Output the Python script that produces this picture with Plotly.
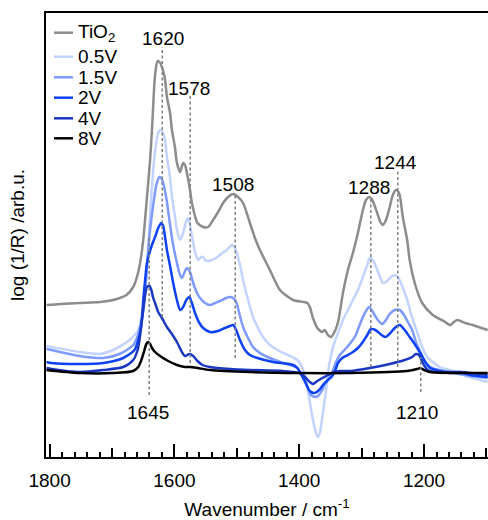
import plotly.graph_objects as go

# ---------------- data ----------------
series_names = ["TiO<sub>2</sub>", "0.5V", "1.5V", "2V", "4V", "8V"]
series_colors = ["#8c8c8c", "#c2d3ff", "#7d9bff", "#0d42f7", "#1a38c4", "#000000"]

wn_tio2 = [1805, 1783, 1752, 1719, 1698, 1677, 1666, 1660, 1655, 1650, 1644, 1639, 1636, 1631, 1627,
           1624, 1620, 1615, 1612, 1607, 1604, 1599, 1596, 1591, 1586, 1583, 1580, 1575, 1572, 1563,
           1554, 1546, 1538, 1530, 1522, 1514, 1506, 1498, 1490, 1479, 1471, 1463, 1447, 1431, 1410,
           1387, 1383, 1378, 1371, 1363, 1359, 1354, 1349, 1342, 1337, 1330, 1322, 1314, 1306, 1298,
           1293, 1288, 1283, 1275, 1270, 1266, 1261, 1255, 1250, 1245, 1240, 1234, 1227, 1223, 1214,
           1203, 1186, 1166, 1159, 1150, 1146, 1134, 1122, 1098]
y_tio2 = [0.67, 0.68, 0.69, 0.70, 0.72, 0.77, 0.85, 0.95, 1.09, 1.32, 1.75, 2.12, 2.42, 2.97, 3.11,
          3.10, 3.05, 2.92, 2.75, 2.59, 2.42, 2.24, 2.09, 2.00, 2.09, 2.07, 1.99, 1.82, 1.69, 1.49,
          1.45, 1.45, 1.52, 1.60, 1.69, 1.75, 1.78, 1.75, 1.69, 1.49, 1.34, 1.22, 1.02, 0.82, 0.72,
          0.69, 0.65, 0.54, 0.44, 0.40, 0.42, 0.37, 0.35, 0.42, 0.52, 0.79, 1.02, 1.19, 1.39, 1.62,
          1.72, 1.75, 1.72, 1.59, 1.50, 1.47, 1.52, 1.65, 1.77, 1.82, 1.79, 1.55, 1.32, 1.12, 0.87,
          0.69, 0.57, 0.50, 0.47, 0.51, 0.52, 0.49, 0.47, 0.42]

wn_05v = [1805, 1797, 1752, 1720, 1698, 1672, 1658, 1650, 1645, 1642, 1639, 1634, 1629, 1626, 1623,
          1620, 1616, 1612, 1607, 1604, 1599, 1596, 1591, 1586, 1581, 1578, 1575, 1570, 1565, 1562,
          1557, 1554, 1551, 1546, 1540, 1531, 1523, 1516, 1508, 1503, 1496, 1490, 1482, 1474, 1466,
          1458, 1447, 1435, 1415, 1403, 1399, 1392, 1387, 1383, 1378, 1373, 1370, 1367, 1362, 1357,
          1354, 1349, 1344, 1338, 1330, 1322, 1314, 1306, 1298, 1291, 1287, 1282, 1275, 1270, 1266,
          1259, 1253, 1247, 1242, 1235, 1227, 1219, 1211, 1203, 1195, 1186, 1175, 1159, 1147, 1134,
          1122, 1098]
y_05v = [0.26, 0.25, 0.20, 0.18, 0.22, 0.32, 0.42, 0.65, 0.92, 1.22, 1.57, 2.02, 2.30, 2.39, 2.42,
         2.41, 2.35, 2.15, 1.94, 1.75, 1.55, 1.42, 1.32, 1.39, 1.51, 1.54, 1.47, 1.29, 1.16, 1.12,
         1.15, 1.15, 1.12, 1.11, 1.12, 1.15, 1.19, 1.22, 1.27, 1.24, 1.10, 0.92, 0.72, 0.55, 0.44,
         0.35, 0.27, 0.22, 0.16, 0.12, 0.09, -0.01, -0.15, -0.30, -0.48, -0.61, -0.65, -0.61, -0.41, -0.18,
         -0.01, 0.17, 0.29, 0.39, 0.52, 0.62, 0.72, 0.82, 0.95, 1.07, 1.14, 1.12, 1.02, 0.94, 0.89,
         0.91, 0.95, 0.97, 0.95, 0.86, 0.72, 0.54, 0.40, 0.25, 0.15, 0.10, 0.05, 0.02, 0.00, -0.04,
         -0.06, -0.10]

wn_15v = [1805, 1797, 1752, 1714, 1688, 1666, 1656, 1648, 1644, 1639, 1634, 1629, 1624, 1621, 1616,
          1612, 1607, 1602, 1596, 1591, 1588, 1583, 1580, 1575, 1570, 1563, 1559, 1551, 1543, 1535,
          1527, 1517, 1511, 1506, 1501, 1495, 1490, 1482, 1474, 1463, 1451, 1426, 1410, 1403, 1399,
          1394, 1387, 1381, 1374, 1370, 1363, 1359, 1352, 1347, 1341, 1335, 1326, 1318, 1310, 1302,
          1294, 1288, 1282, 1274, 1267, 1261, 1255, 1247, 1239, 1232, 1226, 1219, 1213, 1206, 1198,
          1190, 1175, 1159, 1134, 1098]
y_15v = [0.23, 0.22, 0.16, 0.14, 0.18, 0.27, 0.42, 0.72, 1.07, 1.42, 1.67, 1.87, 1.95, 1.94, 1.84,
         1.70, 1.47, 1.27, 1.09, 0.97, 0.94, 1.01, 1.04, 1.00, 0.89, 0.78, 0.74, 0.69, 0.67, 0.69,
         0.71, 0.74, 0.75, 0.74, 0.70, 0.56, 0.45, 0.34, 0.25, 0.19, 0.15, 0.09, 0.06, 0.04, 0.00,
         -0.06, -0.15, -0.23, -0.25, -0.24, -0.18, -0.12, -0.06, 0.00, 0.10, 0.17, 0.23, 0.29, 0.36, 0.49,
         0.60, 0.65, 0.60, 0.52, 0.48, 0.52, 0.58, 0.62, 0.62, 0.57, 0.50, 0.42, 0.30, 0.20, 0.10,
         0.05, 0.02, 0.00, -0.03, -0.06]

wn_2v = [1805, 1797, 1752, 1714, 1682, 1664, 1658, 1653, 1650, 1647, 1644, 1640, 1636, 1631, 1626,
         1621, 1618, 1615, 1612, 1607, 1602, 1596, 1591, 1586, 1581, 1576, 1572, 1567, 1560, 1554,
         1543, 1530, 1519, 1511, 1506, 1501, 1495, 1487, 1479, 1467, 1442, 1410, 1403, 1399, 1391,
         1383, 1375, 1368, 1362, 1354, 1347, 1342, 1338, 1331, 1322, 1314, 1306, 1298, 1291, 1285,
         1278, 1270, 1262, 1254, 1247, 1239, 1231, 1223, 1214, 1206, 1198, 1190, 1175, 1159, 1142,
         1126, 1098]
y_2v = [0.10, 0.09, 0.08, 0.09, 0.14, 0.22, 0.32, 0.47, 0.72, 0.92, 1.09, 1.19, 1.27, 1.35, 1.44,
        1.49, 1.46, 1.35, 1.22, 1.06, 0.89, 0.72, 0.62, 0.65, 0.72, 0.75, 0.69, 0.59, 0.49, 0.44,
        0.40, 0.41, 0.44, 0.46, 0.47, 0.42, 0.32, 0.22, 0.17, 0.14, 0.10, 0.07, 0.04, 0.00, -0.09,
        -0.19, -0.21, -0.18, -0.13, -0.08, -0.04, 0.02, 0.09, 0.14, 0.17, 0.20, 0.24, 0.30, 0.37, 0.43,
        0.42, 0.38, 0.35, 0.39, 0.44, 0.47, 0.42, 0.35, 0.27, 0.19, 0.10, 0.04, 0.01, -0.01, 0.00,
        -0.03, -0.05]

wn_4v = [1805, 1797, 1752, 1714, 1682, 1666, 1659, 1656, 1653, 1650, 1647, 1644, 1640, 1637, 1634,
         1631, 1626, 1620, 1612, 1603, 1596, 1588, 1583, 1576, 1570, 1563, 1555, 1543, 1511, 1479,
         1426, 1399, 1391, 1383, 1378, 1371, 1363, 1354, 1344, 1335, 1318, 1287, 1255, 1231, 1219,
         1213, 1208, 1202, 1194, 1175, 1142, 1098]
y_4v = [0.04, 0.03, 0.00, 0.02, 0.05, 0.12, 0.22, 0.32, 0.47, 0.62, 0.77, 0.85, 0.86, 0.82, 0.74,
        0.69, 0.60, 0.54, 0.45, 0.37, 0.30, 0.20, 0.16, 0.18, 0.16, 0.11, 0.07, 0.05, 0.03, 0.02,
        0.01, -0.01, -0.05, -0.10, -0.12, -0.09, -0.06, -0.03, 0.00, 0.01, 0.01, 0.04, 0.08, 0.12, 0.15,
        0.18, 0.17, 0.09, 0.02, 0.00, 0.00, -0.03]

wn_8v = [1805, 1752, 1698, 1666, 1658, 1653, 1648, 1645, 1642, 1639, 1636, 1631, 1623, 1610, 1596,
         1583, 1575, 1563, 1543, 1479, 1399, 1318, 1227, 1211, 1206, 1200, 1191, 1098]
y_8v = [0.02, -0.01, -0.01, 0.01, 0.05, 0.12, 0.22, 0.28, 0.30, 0.28, 0.24, 0.20, 0.16, 0.11, 0.07,
        0.05, 0.05, 0.04, 0.02, 0.00, -0.01, -0.01, 0.01, 0.03, 0.04, 0.02, 0.00, -0.01]

# band markers (dashed guide lines) and their labels
band_labels = ["1645", "1620", "1578", "1508", "1288", "1244", "1210"]
band_wn = [1640.4, 1619.5, 1574.7, 1502.6, 1285.3, 1242.1, 1205.3]
band_top = [1.35, 3.25, 2.77, 1.79, 1.75, 2.02, 0.15]
band_bottom = [-0.23, 0.55, 0.09, 0.14, 0.05, 0.05, -0.20]
label_wn = [1643, 1618, 1577, 1506, 1288, 1245, 1211]
label_y = [-0.40, 3.34, 2.84, 1.88, 1.85, 2.10, -0.40]

x_major = [1800, 1600, 1400, 1200]
x_mid = [1700, 1500, 1300, 1100]

FONT = "Arial, Liberation Sans, sans-serif"
FS = 19

series_x = [wn_tio2, wn_05v, wn_15v, wn_2v, wn_4v, wn_8v]
series_y = [y_tio2, y_05v, y_15v, y_2v, y_4v, y_8v]

fig = go.Figure()
for name, col, xs, ys in zip(series_names, series_colors, series_x, series_y):
    fig.add_trace(go.Scatter(x=xs, y=ys, mode="lines", name=name, showlegend=False,
                             line=dict(color=col, width=2.5, shape="spline", smoothing=0.7)))

# invisible trace to activate the overlay axis carrying the 100-step ticks
fig.add_trace(go.Scatter(x=[x_mid[0]], y=[0], xaxis="x2", mode="markers",
                         marker=dict(opacity=0), showlegend=False, hoverinfo="skip"))

shapes = []
annotations = []
for lab, xw, y0, y1, lx, ly in zip(band_labels, band_wn, band_bottom, band_top, label_wn, label_y):
    shapes.append(dict(type="line", xref="x", yref="y", x0=xw, x1=xw, y0=y0, y1=y1,
                       line=dict(color="#808080", width=1.5, dash="3px,2.5px")))
    annotations.append(dict(x=lx, y=ly, xref="x", yref="y", text=lab, showarrow=False,
                            font=dict(family=FONT, size=FS, color="#000"),
                            xanchor="center", yanchor="middle"))

# manual legend (line sample + text), in paper coordinates
leg_y_px = [32.7, 56.7, 77.3, 97.7, 118.3, 138.3]
plot_top, plot_h, plot_l, plot_w = 13, 444, 46, 442
for name, col, py in zip(series_names, series_colors, leg_y_px):
    yp = (plot_top + plot_h - py) / plot_h
    shapes.append(dict(type="line", xref="paper", yref="paper",
                       x0=(54 - plot_l) / plot_w, x1=(73 - plot_l) / plot_w, y0=yp, y1=yp,
                       line=dict(color=col, width=2.5)))
    annotations.append(dict(x=(76 - plot_l) / plot_w, y=yp, xref="paper", yref="paper",
                            text=name, showarrow=False, xanchor="left", yanchor="middle",
                            font=dict(family=FONT, size=FS, color="#000")))

fig.update_layout(
    width=488, height=520,
    margin=dict(l=46, r=0, t=13, b=63, autoexpand=False),
    paper_bgcolor="white", plot_bgcolor="white",
    font=dict(family=FONT, size=FS, color="#000"),
    shapes=shapes, annotations=annotations,
    xaxis=dict(range=[1805.8, 1097.5], showgrid=False, zeroline=False,
               showline=True, linecolor="#000", linewidth=2, mirror=True,
               ticks="inside", ticklen=13, tickwidth=1.5, tickcolor="#000",
               tickvals=x_major, ticktext=[str(v) for v in x_major],
               tickfont=dict(family=FONT, size=FS), ticklabelstandoff=5,
               minor=dict(ticks="inside", ticklen=5, tickwidth=1.5, tickcolor="#000",
                          dtick=20, tick0=1800, showgrid=False),
               title=dict(text="Wavenumber / cm<sup>-1</sup>", standoff=16,
                          font=dict(family=FONT, size=FS)),
               automargin=False),
    xaxis2=dict(overlaying="x", matches="x", anchor="y", side="bottom",
                showgrid=False, zeroline=False, showline=False,
                ticks="inside", ticklen=9, tickwidth=1.5, tickcolor="#000",
                tickvals=x_mid, showticklabels=False),
    yaxis=dict(range=[-0.85, 3.59], showgrid=False, zeroline=False,
               showline=True, linecolor="#000", linewidth=2, mirror=False,
               ticks="", showticklabels=False,
               title=dict(text="log (1/R) /arb.u.", standoff=14,
                          font=dict(family=FONT, size=FS)),
               automargin=False),
)

fig.write_html("out.html", config={"displayModeBar": False},
               post_script="document.body.style.margin='0';")
